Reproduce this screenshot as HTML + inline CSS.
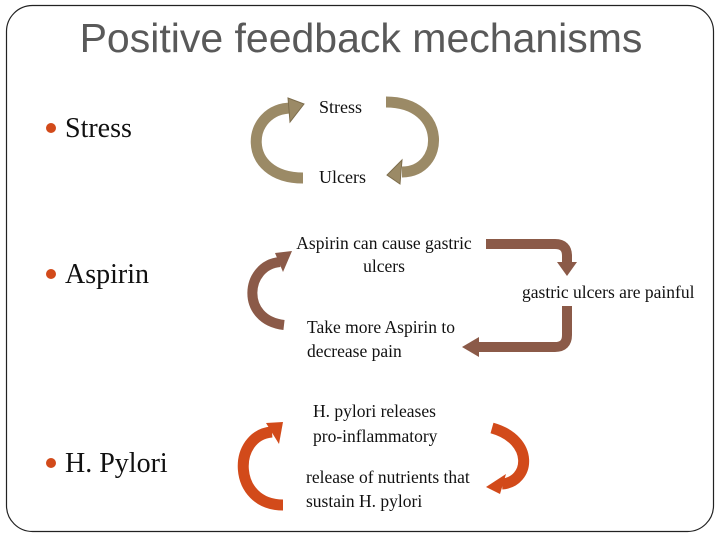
<!DOCTYPE html>
<html><head><meta charset="utf-8"><style>
html,body{margin:0;padding:0;background:#fff;}
svg{display:block;}
.s{font-family:"Liberation Serif",serif;fill:#111;}
</style></head><body>
<svg width="720" height="540" viewBox="0 0 720 540" xmlns="http://www.w3.org/2000/svg">
<rect x="6.5" y="5.5" width="707" height="526" rx="26" fill="#fff" stroke="#222" stroke-width="1.2"/>
<text x="361" y="52" text-anchor="middle" font-family="Liberation Sans, sans-serif" font-size="41" fill="#595959">Positive feedback mechanisms</text>

<circle cx="51" cy="128" r="5" fill="#d24a1a"/>
<text x="65" y="137" class="s" font-size="28">Stress</text>
<circle cx="51" cy="274" r="5" fill="#d24a1a"/>
<text x="65" y="283" class="s" font-size="28">Aspirin</text>
<circle cx="51" cy="463" r="5" fill="#d24a1a"/>
<text x="65" y="472" class="s" font-size="28">H. Pylori</text>

<!-- Stress arrows -->
<g fill="none" stroke="#9b8a66" stroke-width="11">
<path d="M303 178 C 240 178, 245 108, 292 108"/>
<path d="M386 102 C 448 102, 445 172, 402 172"/>
</g>
<polygon points="288,98 304,104 290,122" fill="#9b8a66" stroke="#7d6d4c"/>
<polygon points="402,160 400,184 387,175" fill="#9b8a66" stroke="#7d6d4c"/>
<text x="319" y="113" class="s" font-size="18">Stress</text>
<text x="319" y="183" class="s" font-size="18">Ulcers</text>

<!-- Aspirin arrows -->
<g fill="none" stroke="#8b5a48" stroke-width="10">
<path d="M284 325 C 240 320, 245 265, 280 262"/>
<path d="M486 244 H555 Q567 244 567 256 V263"/>
<path d="M567 306 V335 Q567 347 555 347 H478"/>
</g>
<polygon points="275,253 292,251 283,272" fill="#8b5a48"/>
<polygon points="557,262 577,262 567,276" fill="#8b5a48"/>
<polygon points="479,337 479,357 462,347" fill="#8b5a48"/>
<text x="384" y="249" text-anchor="middle" class="s" font-size="17.5">Aspirin can cause gastric</text>
<text x="384" y="272" text-anchor="middle" class="s" font-size="17.5">ulcers</text>
<text x="522" y="298" class="s" font-size="17.5">gastric ulcers are painful</text>
<text x="307" y="333" class="s" font-size="17.5">Take more Aspirin to</text>
<text x="307" y="357" class="s" font-size="17.5">decrease pain</text>

<!-- H. pylori arrows -->
<g fill="none" stroke="#d24a1a" stroke-width="11">
<path d="M283 505 C 232 505, 232 435, 272 432"/>
<path d="M492 428 C 535 440, 530 482, 502 484"/>
</g>
<polygon points="266,423 283,422 279,444" fill="#d24a1a"/>
<polygon points="506,474 500,494 486,487" fill="#d24a1a"/>
<text x="313" y="417" class="s" font-size="17.5">H. pylori releases</text>
<text x="313" y="442" class="s" font-size="17.5">pro-inflammatory</text>
<text x="306" y="483" class="s" font-size="17.5">release of nutrients that</text>
<text x="306" y="507" class="s" font-size="17.5">sustain H. pylori</text>
</svg>
</body></html>
